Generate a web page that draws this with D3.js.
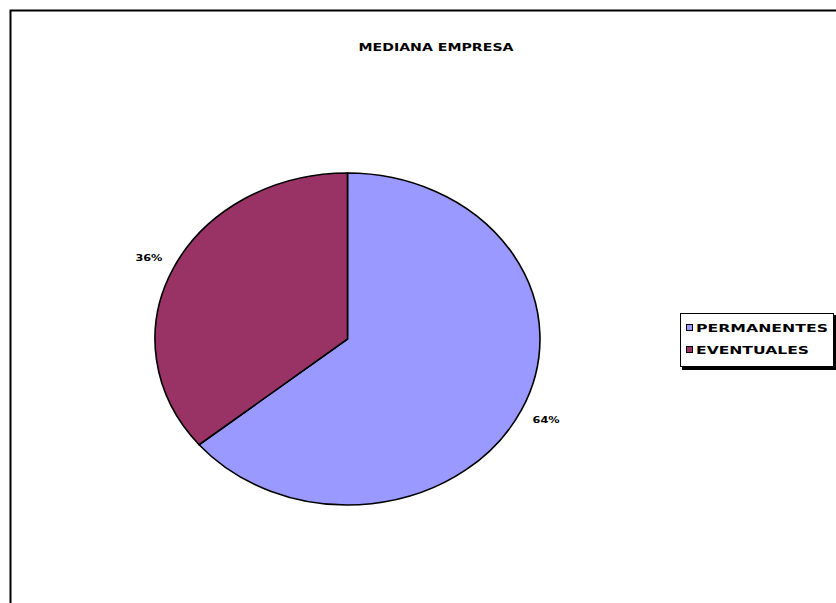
<!DOCTYPE html>
<html>
<head>
<meta charset="utf-8">
<script src="https://cdn.jsdelivr.net/npm/d3@7"></script>
<style>
  body { margin: 0; background: #fff; }
  text { font-family: "DejaVu Sans", sans-serif; font-weight: bold; fill: #000; }
</style>
</head>
<body>
<script>
var width = 836, height = 603;

// data
const categories = ["PERMANENTES", "EVENTUALES"];
const values = [64, 36];
const pctLabels = ["64%", "36%"];
const colors = ["#9999FF", "#993366"];
const title = "MEDIANA EMPRESA";

var svg = d3.select('body').append('svg')
    .attr('width', width)
    .attr('height', height);

svg.append('rect').attr('width', width).attr('height', height).attr('fill', '#fff');

// chart frame (only top/left visible)
svg.append('rect')
    .attr('x', 10.5).attr('y', 10.5)
    .attr('width', 900).attr('height', 700)
    .attr('fill', 'none')
    .attr('stroke', '#000')
    .attr('stroke-width', 2);

// title
svg.append('text')
    .attr('x', 436).attr('y', 51)
    .attr('text-anchor', 'middle')
    .attr('font-size', 10)
    .attr('textLength', 155)
    .attr('lengthAdjust', 'spacingAndGlyphs')
    .text(title);

// pie (elliptical)
const cx = 347.5, cy = 339, rx = 192.5, ry = 166;

const pie = d3.pie().sort(null).value(d => d)(values);
const arc = d3.arc().innerRadius(0).outerRadius(1);

const gPie = svg.append('g')
    .attr('transform', `translate(${cx},${cy}) scale(${rx},${ry})`);

gPie.selectAll('path')
    .data(pie)
    .join('path')
    .attr('d', arc)
    .attr('fill', (d, i) => colors[i])
    .attr('stroke', '#000')
    .attr('stroke-width', 1.6)
    .attr('vector-effect', 'non-scaling-stroke');

// percent labels outside the slices
const k = 1.14;
svg.selectAll('text.pct')
    .data(pie)
    .join('text')
    .attr('class', 'pct')
    .attr('x', d => { const a = (d.startAngle + d.endAngle) / 2; return cx + Math.sin(a) * rx * k; })
    .attr('y', d => { const a = (d.startAngle + d.endAngle) / 2; return cy - Math.cos(a) * ry * k + 3; })
    .attr('text-anchor', 'middle')
    .attr('font-size', 9)
    .attr('textLength', 27)
    .attr('lengthAdjust', 'spacingAndGlyphs')
    .text((d, i) => pctLabels[i]);

// legend
const legend = svg.append('g').attr('transform', 'translate(680,313)');
legend.append('rect')
    .attr('x', 2).attr('y', 2).attr('width', 154).attr('height', 55)
    .attr('fill', '#000');
legend.append('rect')
    .attr('x', 0.5).attr('y', 0.5).attr('width', 153).attr('height', 53)
    .attr('fill', '#fff').attr('stroke', '#000').attr('stroke-width', 1);

const rowY = d3.scaleBand().domain(categories).range([4, 48]);
const lenByCat = [132, 113];

const rows = legend.selectAll('g.row')
    .data(categories)
    .join('g')
    .attr('class', 'row')
    .attr('transform', d => `translate(0,${rowY(d) + rowY.bandwidth() / 2})`);

rows.append('rect')
    .attr('x', 6.5).attr('y', -3.5).attr('width', 6).attr('height', 6)
    .attr('fill', (d, i) => colors[i])
    .attr('stroke', '#000').attr('stroke-width', 1);

rows.append('text')
    .attr('x', 16).attr('y', 4)
    .attr('font-size', 10)
    .attr('textLength', (d, i) => lenByCat[i])
    .attr('lengthAdjust', 'spacingAndGlyphs')
    .text(d => d);
</script>
</body>
</html>
